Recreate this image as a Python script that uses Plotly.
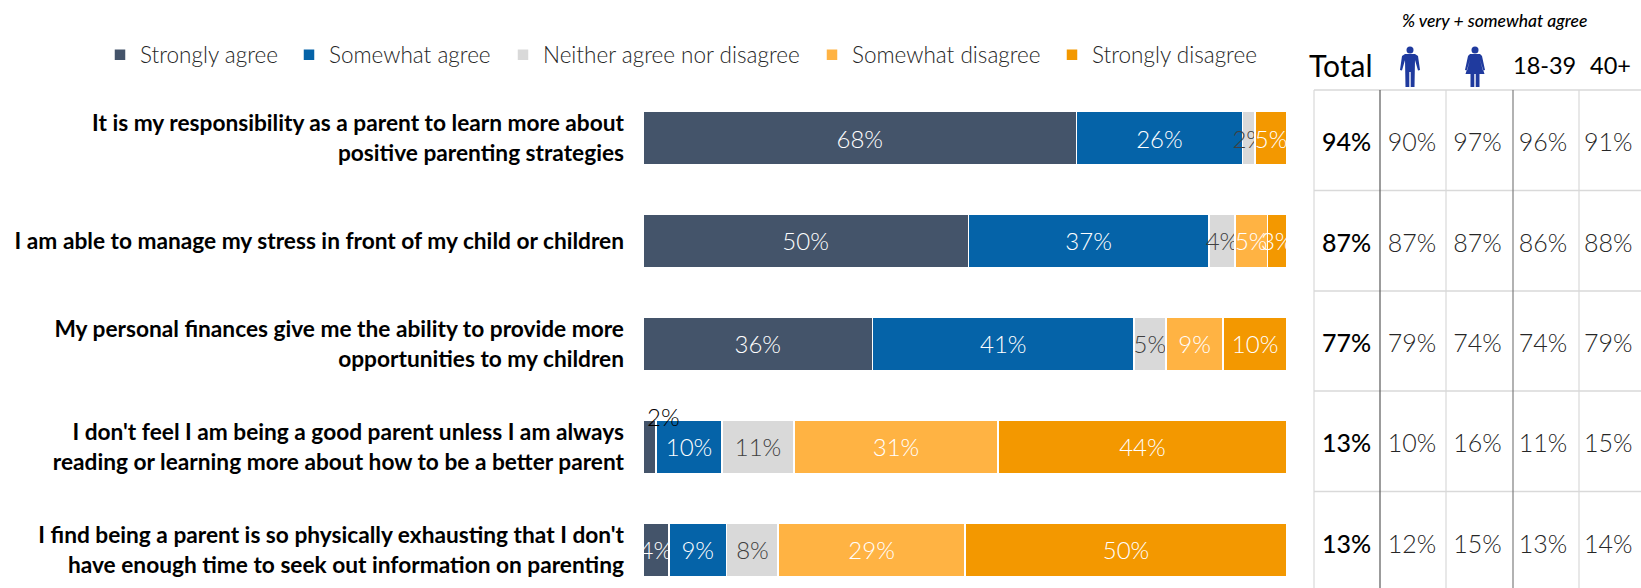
import plotly.graph_objects as go

WIDTH, HEIGHT = 1641, 588
FONT = "Lato"

statements = [
    "It is my responsibility as a parent to learn more about<br>positive parenting strategies",
    "I am able to manage my stress in front of my child or children",
    "My personal finances give me the ability to provide more<br>opportunities to my children",
    "I don't feel I am being a good parent unless I am always<br>reading or learning more about how to be a better parent",
    "I find being a parent is so physically exhausting that I don't<br>have enough time to seek out information on parenting",
]
strongly_agree = [68, 50, 36, 2, 4]
somewhat_agree = [26, 37, 41, 10, 9]
neither = [2, 4, 5, 11, 8]
somewhat_disagree = [0, 5, 9, 31, 29]
strongly_disagree = [5, 3, 10, 44, 50]

columns = ["Total", "Men", "Women", "18-39", "40+"]
total_pct = [94, 87, 77, 13, 13]
men_pct = [90, 87, 79, 10, 12]
women_pct = [97, 87, 74, 16, 15]
young_pct = [96, 86, 74, 11, 13]
older_pct = [91, 88, 79, 15, 14]

series = [
    ("Strongly agree", strongly_agree, "#44546A", "white", 116),
    ("Somewhat agree", somewhat_agree, "#0563A8", "white", 305),
    ("Neither agree nor disagree", neither, "#D9D9D9", "#404040", 519),
    ("Somewhat disagree", somewhat_disagree, "#FFB343", "white", 828),
    ("Strongly disagree", strongly_disagree, "#F39800", "white", 1068),
]


def px(x):
    return x / WIDTH


def py(y):
    return 1 - y / HEIGHT


fig = go.Figure()
legends = {}
rows = list(range(len(statements)))

for idx, (name, values, color, label_color, legend_x) in enumerate(series):
    key = "legend" if idx == 0 else f"legend{idx + 1}"
    # The 2% in the fourth row sits above its bar and is added separately
    labels = [
        "" if v == 0 or (idx == 0 and v == 2) else f"{v}%" for v in values
    ]
    fig.add_trace(go.Bar(
        name=name, y=rows, x=values, orientation="h",
        marker=dict(color=color, line=dict(color="white", width=1.5)),
        text=labels, textposition="inside", insidetextanchor="middle",
        textangle=0, constraintext="none", cliponaxis=False,
        textfont=dict(family=FONT, size=24, color=label_color, weight=300),
        hoverinfo="skip", legend=key,
    ))
    legends[key] = dict(
        x=px(legend_x - 16), y=py(55), xanchor="left", yanchor="middle",
        orientation="h", bgcolor="rgba(0,0,0,0)", borderwidth=0,
        font=dict(family=FONT, size=22.5, color="#262626", weight=300),
    )

# Right-hand table of agreement percentages, on its own pair of axes
table_cols = [total_pct, men_pct, women_pct, young_pct, older_pct]
for c, values in enumerate(table_cols):
    fig.add_trace(go.Scatter(
        x=[c] * len(values), y=rows, xaxis="x2", yaxis="y2", mode="text",
        text=[f"{v}%" for v in values], textposition="middle center",
        textfont=dict(
            family=FONT, size=25,
            color="black" if c == 0 else "#262626",
            weight=500 if c == 0 else 300,
        ),
        showlegend=False, hoverinfo="skip", cliponaxis=False,
    ))

shapes = []
for y in [90, 190.5, 291, 391, 491.5]:
    shapes.append(dict(type="line", xref="paper", yref="paper",
                       x0=px(1314), x1=px(1641), y0=py(y), y1=py(y),
                       line=dict(color="#D9D9D9", width=1.5)))
for x, col in [(1314, "#D9D9D9"), (1380, "#595959"), (1446, "#D9D9D9"),
               (1513, "#7F7F7F"), (1579, "#D9D9D9")]:
    shapes.append(dict(type="line", xref="paper", yref="paper",
                       x0=px(x), x1=px(x), y0=py(90), y1=py(588),
                       line=dict(color=col, width=1.2)))


def poly(points):
    return "M" + " L".join(f"{px(x):.5f},{py(y):.5f}" for x, y in points) + " Z"


def man(cx):
    body = [(cx - 5, 54), (cx + 5, 54), (cx + 8, 56), (cx + 10, 70), (cx + 8, 70.5),
            (cx + 5, 60), (cx + 4.5, 87), (cx + 0.7, 87), (cx + 0.7, 72),
            (cx - 0.7, 72), (cx - 0.7, 87), (cx - 4.5, 87), (cx - 5, 60),
            (cx - 8, 70.5), (cx - 10, 70), (cx - 8, 56)]
    return poly(body)


def woman(cx):
    body = [(cx - 5, 54), (cx + 5, 54), (cx + 7, 56), (cx + 10, 70), (cx + 8, 70.5),
            (cx + 5, 60), (cx + 9.5, 74), (cx + 4.5, 74), (cx + 4.5, 87), (cx + 0.7, 87),
            (cx + 0.7, 74), (cx - 0.7, 74), (cx - 0.7, 87), (cx - 4.5, 87), (cx - 4.5, 74),
            (cx - 9.5, 74), (cx - 5, 60), (cx - 8, 70.5), (cx - 10, 70), (cx - 7, 56)]
    return poly(body)


ICON = "#1F3A9E"
for cx, path in [(1410, man(1410)), (1475, woman(1475))]:
    shapes.append(dict(type="path", xref="paper", yref="paper", path=path,
                       fillcolor=ICON, line=dict(width=0)))
    shapes.append(dict(type="circle", xref="paper", yref="paper",
                       x0=px(cx - 3.5), x1=px(cx + 3.5), y0=py(53.5), y1=py(46.5),
                       fillcolor=ICON, line=dict(width=0)))


def header(x, y, text, size, weight=400):
    return dict(x=px(x), y=py(y), xref="paper", yref="paper", showarrow=False,
                xanchor="center", yanchor="middle", text=text,
                font=dict(family=FONT, size=size, color="black", weight=weight))


annotations = [
    dict(x=0, y=3, xref="x", yref="y", text="2%", showarrow=False, xanchor="left",
         xshift=2, yshift=30, font=dict(family=FONT, size=24, color="black", weight=300)),
    header(1494, 21, "<i>% very + somewhat agree</i>", 17.5, 500),
    header(1341, 65, "Total", 30),
    header(1544, 65, "18-39", 23.5),
    header(1610, 65, "40+", 23.5),
]

fig.update_layout(
    width=WIDTH, height=HEIGHT,
    margin=dict(l=0, r=0, t=0, b=0, autoexpand=False),
    paper_bgcolor="white", plot_bgcolor="white",
    barmode="stack", barnorm="percent", bargap=0.485,
    showlegend=True,
    font=dict(family=FONT),
    xaxis=dict(domain=[px(643), px(1287)], range=[0, 100], visible=False, fixedrange=True),
    xaxis2=dict(domain=[px(1314), px(1641)], range=[-0.5, 4.5], visible=False,
                anchor="y2", fixedrange=True),
    yaxis=dict(
        domain=[0, py(90)], range=[4.369, -0.466], tickmode="array", tickvals=rows,
        ticktext=[f"<b>{s}</b>" for s in statements], ticks="", showline=False,
        showgrid=False, zeroline=False, ticklabelstandoff=18, fixedrange=True,
        tickfont=dict(family=FONT, size=22.7, color="black"),
    ),
    yaxis2=dict(domain=[0, py(90)], range=[4.412, -0.548], visible=False,
                anchor="x2", fixedrange=True),
    shapes=shapes, annotations=annotations,
    **legends,
)

fig.write_html("out.html")
